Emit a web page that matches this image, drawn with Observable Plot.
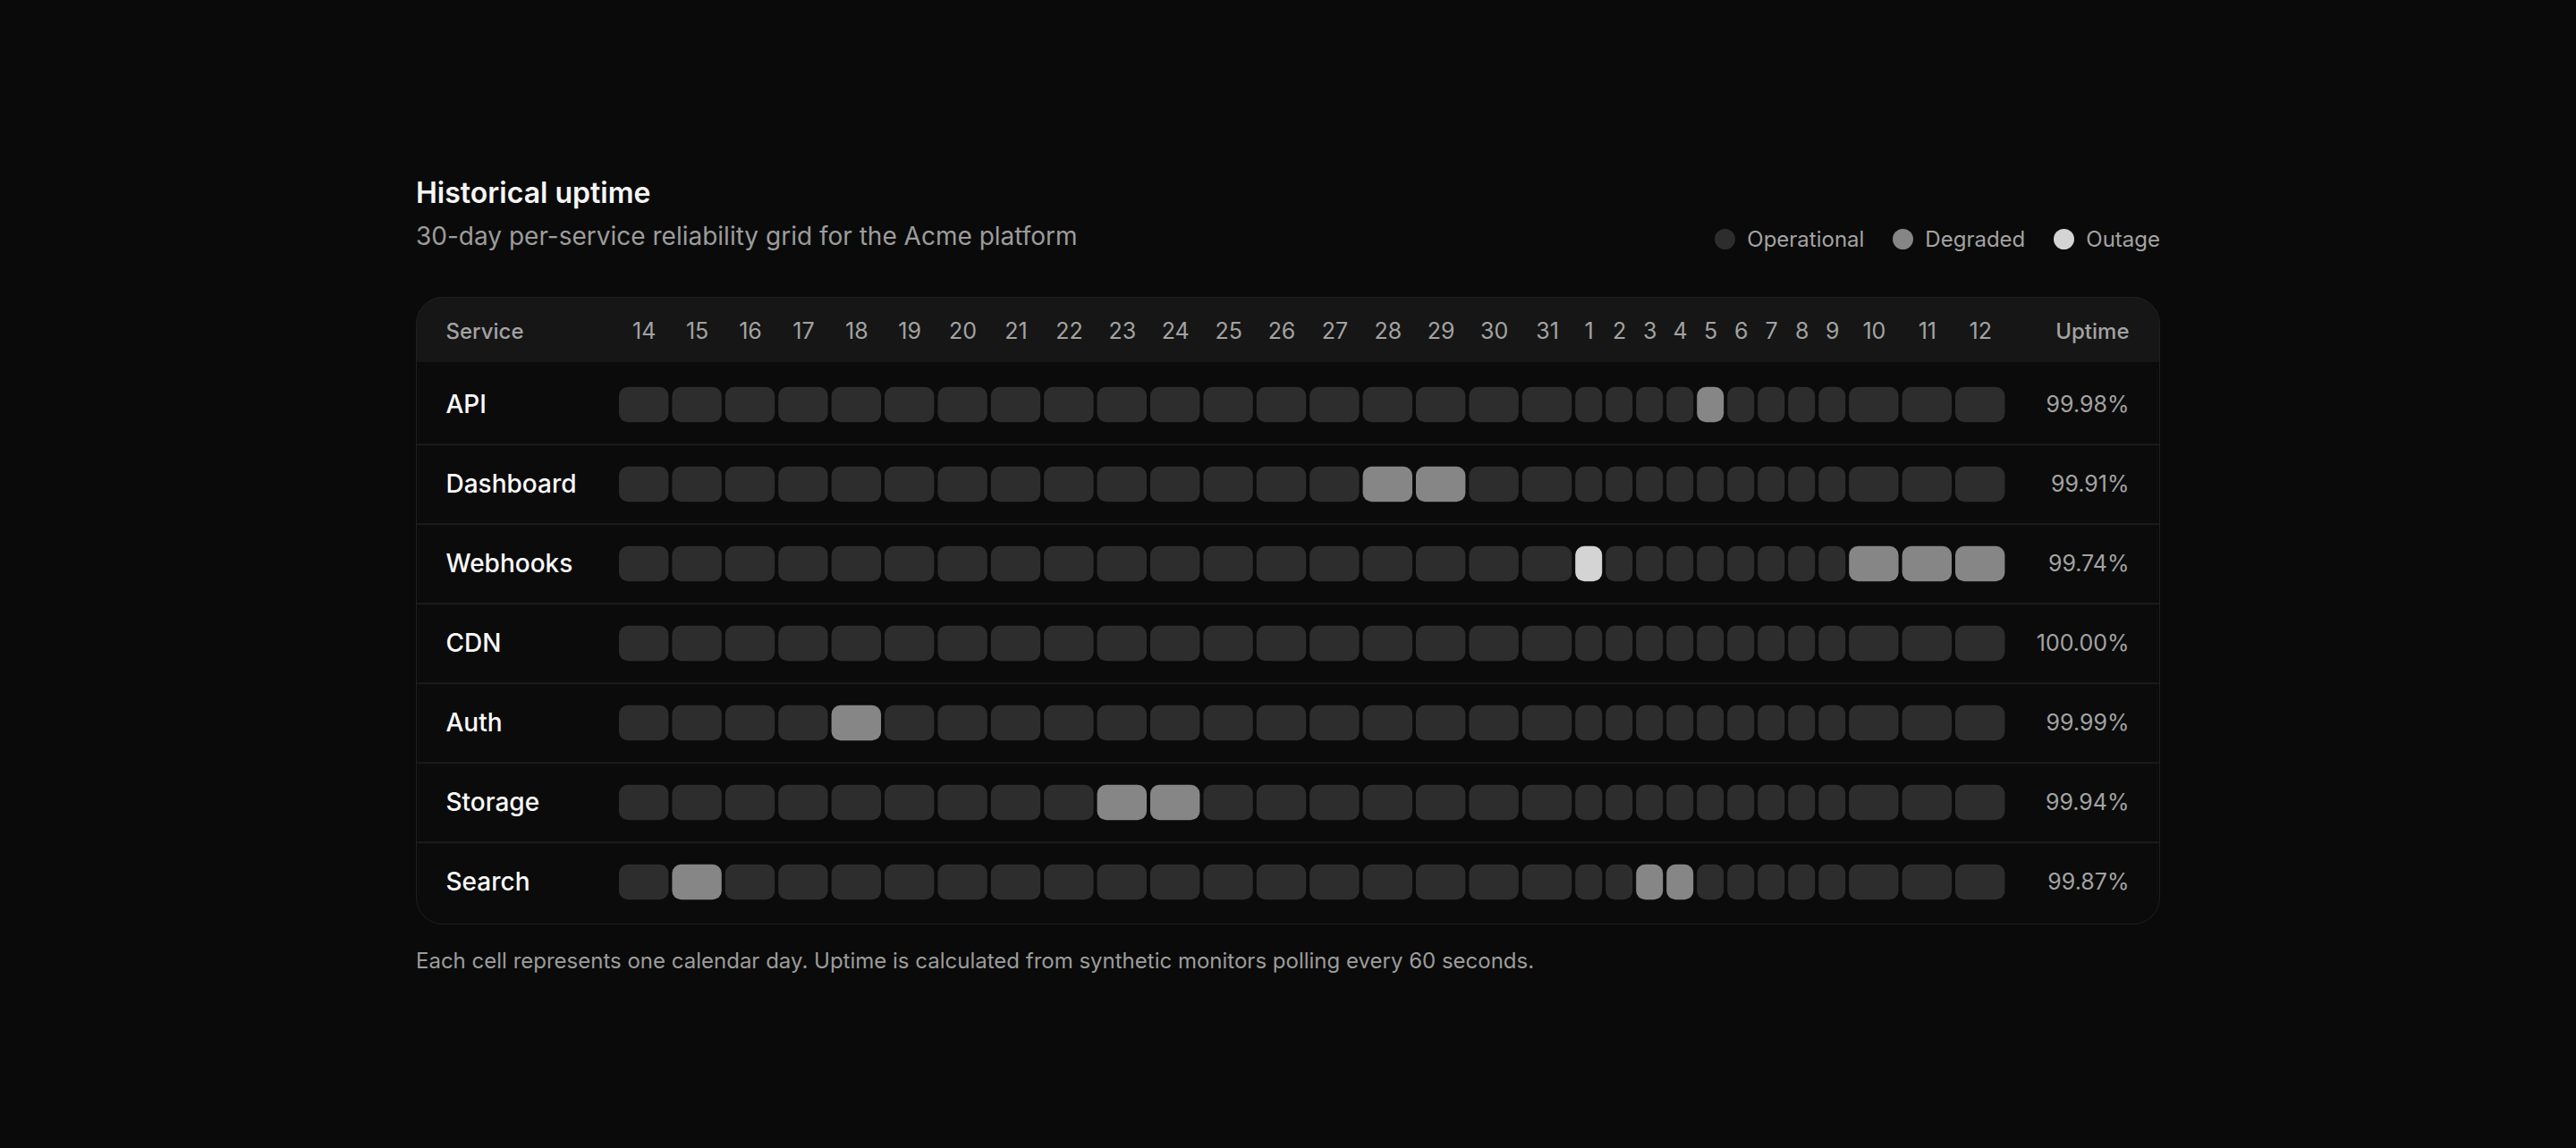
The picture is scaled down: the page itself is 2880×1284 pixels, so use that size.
<!DOCTYPE html>
<html>
<head>
<meta charset="utf-8">
<script src="https://cdn.jsdelivr.net/npm/d3@7"></script>
<script src="https://cdn.jsdelivr.net/npm/@observablehq/plot@0.6"></script>
<style>
  html, body { margin: 0; background: #0a0a0a; }
  body { width: 2880px; height: 1284px; position: relative; overflow: hidden;
         font-family: Inter, "Noto Sans", sans-serif; }
  #title { position: absolute; left: 465px; top: 197px; font-size: 32px; line-height: 38px;
           font-weight: 600; color: #f5f5f5; }
  #subtitle { position: absolute; left: 465px; top: 247px; font-size: 28px; line-height: 34px;
              color: #9c9c9c; }
  #legend { position: absolute; right: 465px; top: 252px; height: 30px; display: flex;
            align-items: center; gap: 32px; font-size: 24px; color: #a3a3a3; }
  .item { display: flex; align-items: center; gap: 13px; }
  .dot { width: 23px; height: 23px; border-radius: 50%; }
  #card { position: absolute; left: 465px; top: 332px; width: 1948px; height: 700px;
          border: 1px solid #1f1f1f; border-radius: 30px; overflow: hidden;
          background: linear-gradient(#161616 0 72px, #0b0b0b 72px); }
  #card svg { display: block; }
  #footer { position: absolute; left: 465px; top: 1060px; font-size: 24px; line-height: 30px;
            color: #9c9c9c; }
</style>
</head>
<body>
<div id="title">Historical uptime</div>
<div id="subtitle">30-day per-service reliability grid for the Acme platform</div>
<div id="legend"></div>
<div id="card"></div>
<div id="footer">Each cell represents one calendar day. Uptime is calculated from synthetic monitors polling every 60 seconds.</div>
<script>
// ---- Data ----
const services = ["API", "Dashboard", "Webhooks", "CDN", "Auth", "Storage", "Search"];
const days = ["14","15","16","17","18","19","20","21","22","23","24","25","26","27","28","29","30","31",
              "1","2","3","4","5","6","7","8","9","10","11","12"];
const uptime = ["99.98%", "99.91%", "99.74%", "100.00%", "99.99%", "99.94%", "99.87%"];
const statusNames = ["Operational", "Degraded", "Outage"];
const statusColors = ["#2d2d2d", "#868686", "#d4d4d4"];
// per-day status, one character per day in the order of `days`: 0 operational, 1 degraded, 2 outage
const statusAPI       = "000000000000000000000010000000";
const statusDashboard = "000000000000001100000000000000";
const statusWebhooks  = "000000000000000000200000000111";
const statusCDN       = "000000000000000000000000000000";
const statusAuth      = "000010000000000000000000000000";
const statusStorage   = "000000000110000000000000000000";
const statusSearch    = "010000000000000000001100000000";
const statusRows = [statusAPI, statusDashboard, statusWebhooks, statusCDN, statusAuth, statusStorage, statusSearch];

// ---- Layout (table-like column widths derived from label length) ----
const W = 1948, H = 700, headerH = 72;
const serviceColW = 224;
const colWidth = d => d.length > 1 ? 59.4 : 34;
let acc = serviceColW;
const cols = days.map(d => {
  const x1 = acc; acc += colWidth(d);
  return {day: d, x1, x2: acc, cx: (x1 + acc) / 2};
});
const cells = [];
services.forEach((s, i) => {
  cols.forEach((c, j) => cells.push({service: s, x1: c.x1, x2: c.x2, code: +statusRows[i][j]}));
});
const bw = (H - headerH) / services.length;
const cellH = 40;

// ---- Legend ----
const legend = document.getElementById("legend");
statusNames.forEach((n, i) => {
  const it = document.createElement("div"); it.className = "item";
  const dot = document.createElement("div"); dot.className = "dot"; dot.style.background = statusColors[i];
  const t = document.createElement("span"); t.textContent = n;
  it.append(dot, t); legend.append(it);
});

// ---- Chart ----
const chart = Plot.plot({
  width: W, height: H,
  marginTop: headerH, marginBottom: 0, marginLeft: 0, marginRight: 0,
  x: {domain: [0, W], axis: null},
  y: {domain: services, axis: null, padding: 0},
  style: {background: "transparent", fontFamily: "Inter, 'Noto Sans', sans-serif", overflow: "visible"},
  marks: [
    Plot.ruleY(services.slice(1), {y: d => d, dy: -bw / 2, stroke: "#1c1c1c", strokeWidth: 2}),
    Plot.barX(cells, {
      x1: "x1", x2: "x2", y: "service",
      fill: d => statusColors[d.code],
      rx: 10, insetLeft: 2, insetRight: 2,
      insetTop: (bw - cellH) / 2, insetBottom: (bw - cellH) / 2
    }),
    Plot.text(cols, {x: "cx", text: "day", frameAnchor: "top", dy: -44, fill: "#a3a3a3", fontSize: 25}),
    Plot.text(["Service"], {text: d => d, frameAnchor: "top-left", dx: 32, dy: -44, textAnchor: "start",
                            fill: "#a3a3a3", fontSize: 24, fontWeight: 500}),
    Plot.text(["Uptime"], {text: d => d, frameAnchor: "top-right", dx: -34, dy: -44, textAnchor: "end",
                           fill: "#a3a3a3", fontSize: 24, fontWeight: 500}),
    Plot.text(services, {y: d => d, text: d => d, frameAnchor: "left", dx: 32, textAnchor: "start",
                         fill: "#fafafa", fontSize: 28, fontWeight: 500}),
    Plot.text(services, {y: d => d, text: (d, i) => uptime[i], frameAnchor: "right", dx: -34, textAnchor: "end",
                         fill: "#a3a3a3", fontSize: 25})
  ]
});
document.getElementById("card").append(chart);
</script>
</body>
</html>
